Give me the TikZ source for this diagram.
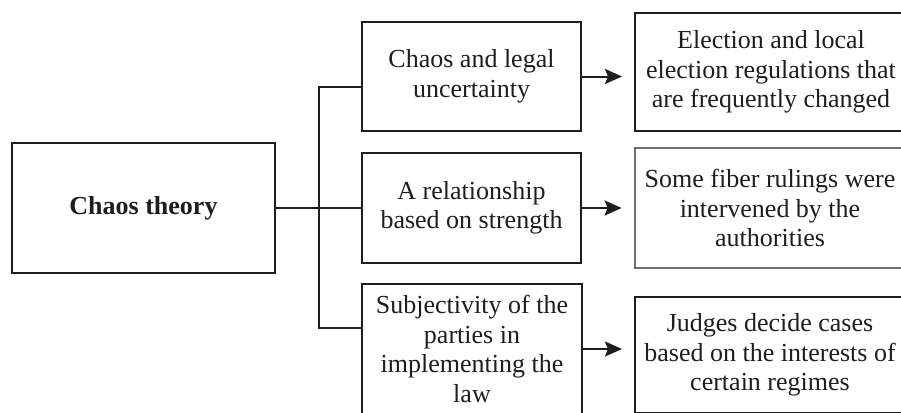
\documentclass[tikz,border=0pt]{standalone}
\usepackage{fontspec}
\setmainfont{Liberation Serif}
\usetikzlibrary{arrows.meta}
\definecolor{ink}{HTML}{1E1E1E}
\definecolor{greyedge}{HTML}{6E6E6E}
\begin{document}
\begin{tikzpicture}[x=1pt,y=-1pt,
  box/.style={draw=ink, line width=2pt, rectangle, inner sep=0pt, align=center,
    text=ink, font=\fontsize{26}{29.5}\selectfont},
  link/.style={draw=ink, line width=2pt},
  arrowlink/.style={link, -{Stealth[length=17pt,width=15pt,inset=3pt]}, shorten >=12pt}]
\useasboundingbox (0,0) rectangle (901,412);
\clip (0,0) rectangle (901,412);
\fill[white] (0,0) rectangle (901,412);

\node[box, minimum width=263pt, minimum height=130pt, font=\fontsize{26}{29.5}\selectfont\bfseries] (root) at (143.5,208) {Chaos theory};

\node[box, minimum width=219pt, minimum height=109pt] (b1) at (471.5,76.5) {Chaos and legal\\uncertainty};
\node[box, minimum width=219pt, minimum height=110pt] (b2) at (471.5,208) {A relationship\\based on strength};
\node[box, minimum width=220pt, minimum height=130pt] (b3) at (472,349) {Subjectivity of the\\parties in\\implementing the\\law};

\node[box, minimum width=272pt, minimum height=118pt] (r1) at (771,72) {Election and local\\election regulations that\\are frequently changed};
\node[box, draw=greyedge, line width=2.8pt, minimum width=270pt, minimum height=120pt] (r2) at (770,208) {Some fiber rulings were\\intervened by the\\authorities};
\node[box, minimum width=270pt, minimum height=116pt] (r3) at (770,355) {Judges decide cases\\based on the interests of\\certain regimes};

\coordinate (jt) at (319,87);
\coordinate (jm) at (319,208);
\coordinate (jb) at (319,328);

\draw[link] (root.east) -- (jm) -- (b2.west);
\draw[link] (b1.west |- jt) -- (jt) -- (jb) -- (b3.west |- jb);

\draw[arrowlink] (b1.east) -- (b1.east -| r1.west);
\draw[arrowlink] (b2.east) -- (b2.east -| r2.west);
\draw[arrowlink] (b3.east) -- (b3.east -| r3.west);
\end{tikzpicture}
\end{document}
